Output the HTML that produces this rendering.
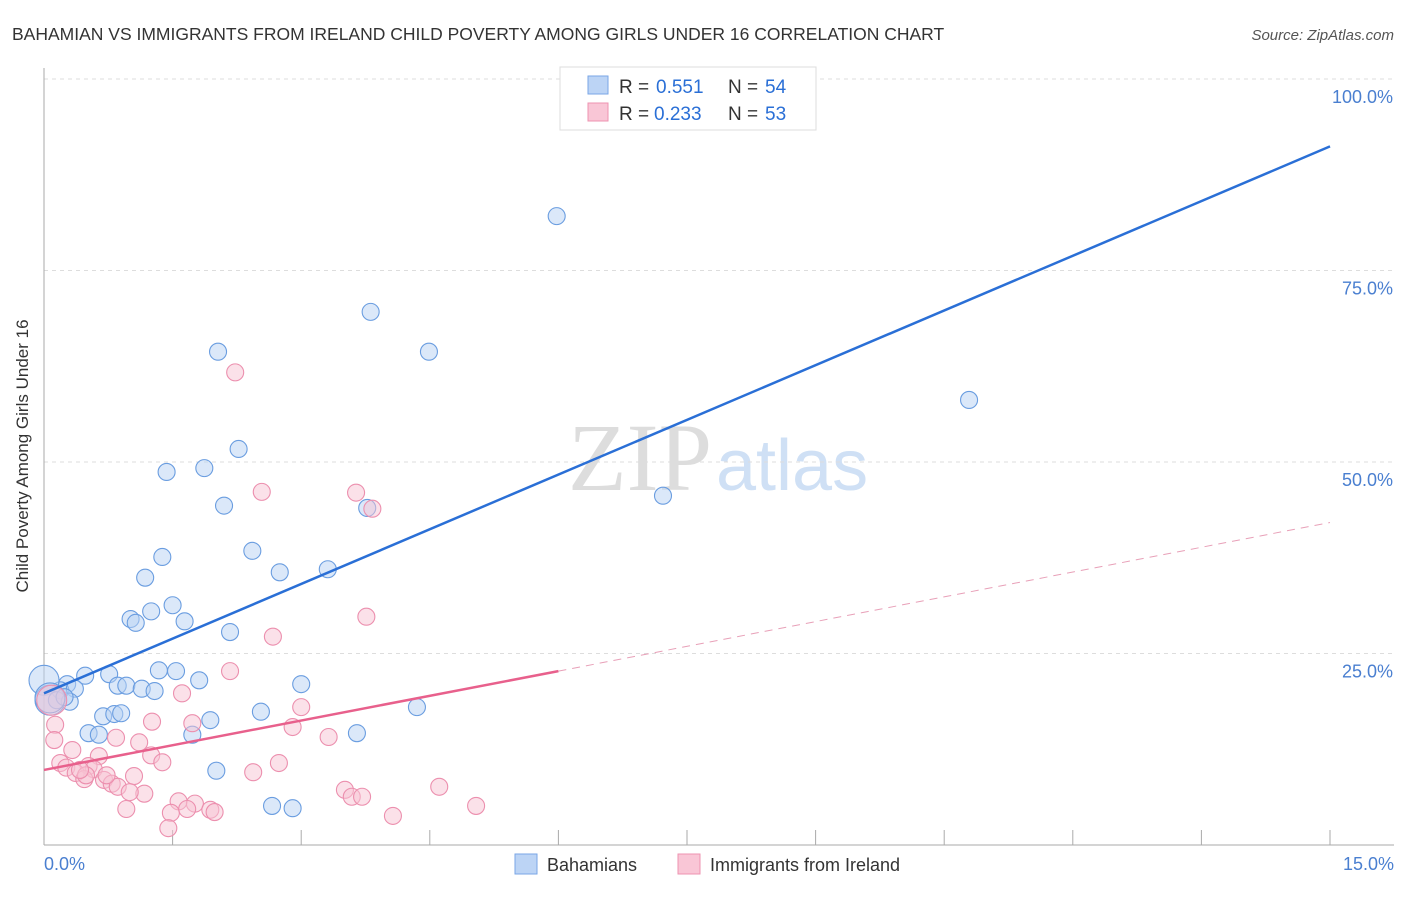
<!DOCTYPE html>
<html><head><meta charset="utf-8"><style>
body{margin:0;background:#fff;font-family:"Liberation Sans",sans-serif;}
</style></head><body>
<svg width="1406" height="892" xmlns="http://www.w3.org/2000/svg" font-family="Liberation Sans, sans-serif">
<text x="12" y="40" font-size="17.5" fill="#333">BAHAMIAN VS IMMIGRANTS FROM IRELAND CHILD POVERTY AMONG GIRLS UNDER 16 CORRELATION CHART</text>
<text x="1394" y="40" font-size="15" fill="#555" font-style="italic" text-anchor="end">Source: ZipAtlas.com</text>
<text x="712" y="490" font-size="96" fill="#ddd" text-anchor="end" font-family="Liberation Serif, serif">ZIP</text>
<text x="716" y="490" font-size="72" fill="#cfe0f5">atlas</text>
<g id="grid"></g>
<line x1="44" y1="68" x2="44" y2="845" stroke="#aaa"/>
<line x1="44" y1="845" x2="1394" y2="845" stroke="#aaa"/>
<text x="28" y="456" font-size="17" fill="#333" text-anchor="middle" transform="rotate(-90 28 456)">Child Poverty Among Girls Under 16</text>
<text x="44" y="870" font-size="18" fill="#4a7fd0">0.0%</text>
<text x="1394" y="870" font-size="18" fill="#4a7fd0" text-anchor="end">15.0%</text>
<g id="marks"></g>
<g>
<rect x="560" y="67" width="256" height="63" fill="#fff" stroke="#ddd"/>
<rect x="588" y="76" width="20" height="18" fill="#bcd4f5" stroke="#7aa6e6"/>
<rect x="588" y="103" width="20" height="18" fill="#f9c6d6" stroke="#ee93b0"/>
<text y="93" font-size="19" fill="#333"><tspan x="619">R =</tspan><tspan x="656" fill="#2a6fd6">0.551</tspan><tspan x="728">N =</tspan><tspan x="765" fill="#2a6fd6">54</tspan></text>
<text y="120" font-size="19" fill="#333"><tspan x="619">R =</tspan><tspan x="654" fill="#2a6fd6">0.233</tspan><tspan x="728">N =</tspan><tspan x="765" fill="#2a6fd6">53</tspan></text>
</g>
<g>
<rect x="515" y="854" width="22" height="20" fill="#bcd4f5" stroke="#7aa6e6"/>
<text x="547" y="871" font-size="18" fill="#333">Bahamians</text>
<rect x="678" y="854" width="22" height="20" fill="#f9c6d6" stroke="#ee93b0"/>
<text x="710" y="871" font-size="18" fill="#333">Immigrants from Ireland</text>
</g>
</svg>
<script>
const yTicks=[25,50,75,100];
const yTickLabels=["25.0%","50.0%","75.0%","100.0%"];
const xTicks=[1.5,3,4.5,6,7.5,9,10.5,12,13.5,15];
const bluePx=[[557,216],[371,312],[218,352],[429,352],[969,400],[239,449],[167,472],[204,468],[663,496],[224,506],[367,508],[252,551],[162,557],[280,572],[328,569],[145,578],[131,619],[136,623],[151,611],[173,605],[185,621],[230,632],[159,670],[176,671],[85,676],[109,674],[67,684],[199,680],[301,684],[60,690],[75,689],[118,686],[126,686],[142,689],[155,691],[44,680],[50,700],[57,700],[70,702],[65,697],[103,716],[114,714],[121,713],[89,733],[99,735],[210,720],[192,735],[261,712],[357,733],[417,707],[216,771],[272,806],[293,808],[50,698]];
const pinkPx=[[235,372],[262,492],[356,493],[372,509],[366,617],[273,637],[230,671],[182,693],[301,707],[152,722],[192,723],[293,727],[329,737],[116,738],[139,742],[52,700],[55,725],[54,740],[72,750],[99,756],[151,755],[162,762],[60,763],[66,768],[89,766],[94,769],[76,773],[84,779],[134,776],[104,780],[112,784],[118,787],[253,772],[279,763],[144,794],[179,801],[195,804],[126,809],[171,813],[210,810],[215,812],[168,828],[187,809],[345,790],[352,797],[362,797],[439,787],[476,806],[393,816],[130,792],[107,775],[86,775],[80,770]];
const toX=p=>+((p-44)/1286*15).toFixed(2), toY=p=>+((845-p)/766*100).toFixed(1);
const blueX=bluePx.map(p=>toX(p[0])), blueY=bluePx.map(p=>toY(p[1]));
const pinkX=pinkPx.map(p=>toX(p[0])), pinkY=pinkPx.map(p=>toY(p[1]));
const blueLine=[[0,19.8],[15,91.2]];
const pinkLine=[[0,9.8],[6,22.7],[15,42.1]];
const sx=v=>44+v/15*1286, sy=v=>845-v/100*766;
const NS="http://www.w3.org/2000/svg";
const grid=document.getElementById('grid'), marks=document.getElementById('marks');
function mk(tag,at,parent){const e=document.createElementNS(NS,tag);for(const k in at)e.setAttribute(k,at[k]);parent.appendChild(e);return e;}
yTicks.forEach((t,i)=>{
 const l=mk('line',{x1:44,x2:1394,y1:sy(t),y2:sy(t),stroke:'#ddd','stroke-dasharray':'4,4'},grid);
 
 
 const tx=mk('text',{x:1393,y:sy(t)+24,'font-size':18,fill:'#4a7fd0','text-anchor':'end'},grid);
 tx.textContent=yTickLabels[i];
 
 
});
xTicks.forEach(t=>{
 const l=mk('line',{x1:sx(t),x2:sx(t),y1:830,y2:845,stroke:'#aaa'},grid);
 
 
});
function dots(X,Y,fill,stroke,name){X.forEach((x,i)=>{
 const big=(x<0.1&&Y[i]>18&&Y[i]<22);
 const c=mk('circle',{cx:sx(x),cy:sy(Y[i]),r:big?15:8.5,fill:fill,'fill-opacity':0.5,stroke:stroke,'stroke-width':1.1},marks);
 
 
});}
dots(blueX,blueY,'#b8d1f3','#6a9de0','bahamian-point');
dots(pinkX,pinkY,'#f8c3d4','#ec8fae','ireland-point');
const bl=mk('line',{x1:sx(blueLine[0][0]),y1:sy(blueLine[0][1]),x2:sx(blueLine[1][0]),y2:sy(blueLine[1][1]),stroke:'#2a6fd6','stroke-width':2.5},marks);


const pl=mk('line',{x1:sx(pinkLine[0][0]),y1:sy(pinkLine[0][1]),x2:sx(pinkLine[1][0]),y2:sy(pinkLine[1][1]),stroke:'#e8608c','stroke-width':2.5},marks);


const pd=mk('line',{x1:sx(pinkLine[1][0]),y1:sy(pinkLine[1][1]),x2:sx(pinkLine[2][0]),y2:sy(pinkLine[2][1]),stroke:'#e8a0b8','stroke-width':1,'stroke-dasharray':'8,6'},marks);


</script>
</body></html>
